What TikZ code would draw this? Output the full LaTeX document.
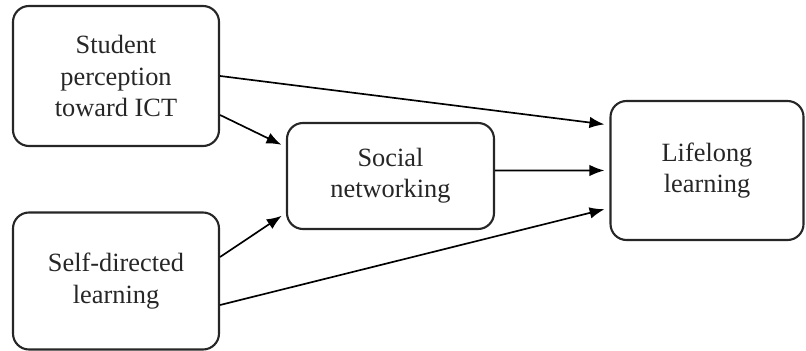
\documentclass[tikz,border=0pt]{standalone}
\usepackage{fontspec}
\setmainfont{Liberation Serif}
\usetikzlibrary{positioning, arrows.meta}

\begin{document}
\begin{tikzpicture}[
  box/.style={rectangle, rounded corners=0.32cm, draw=black!85, line width=1.2pt, align=center, font=\fontsize{15}{17.8}\selectfont, text=black!85},
  arr/.style={-{Latex[length=3mm, width=2.3mm]}, line width=0.95pt, shorten >=0.1cm},
]
  \useasboundingbox (0,0) rectangle (16.12,7.02);

  \node[box, minimum width=4.12cm, minimum height=2.8cm] (stu) at (2.32, 5.5) {Student\\perception\\toward ICT};
  \node[box, minimum width=4.12cm, minimum height=2.74cm] (self) at (2.32, 1.4) {Self-directed\\learning};
  \node[box, minimum width=4.14cm, minimum height=2.12cm] (soc) at (7.81, 3.5) {Social\\networking};
  \node[box, minimum width=3.86cm, minimum height=2.78cm] (life) at (14.14, 3.61) {Lifelong\\learning};

  \draw[arr] (stu.east) -- ([yshift=0.91cm]life.west);
  \draw[arr] ([yshift=-0.78cm]stu.east) -- ([yshift=0.58cm]soc.west);
  \draw[arr] ([yshift=0.48cm]self.east) -- ([yshift=-0.74cm]soc.west);
  \draw[arr] ([yshift=-0.48cm]self.east) -- ([yshift=-0.75cm]life.west);
  \draw[arr] ([yshift=0.11cm]soc.east) -- (life.west);
\end{tikzpicture}
\end{document}
